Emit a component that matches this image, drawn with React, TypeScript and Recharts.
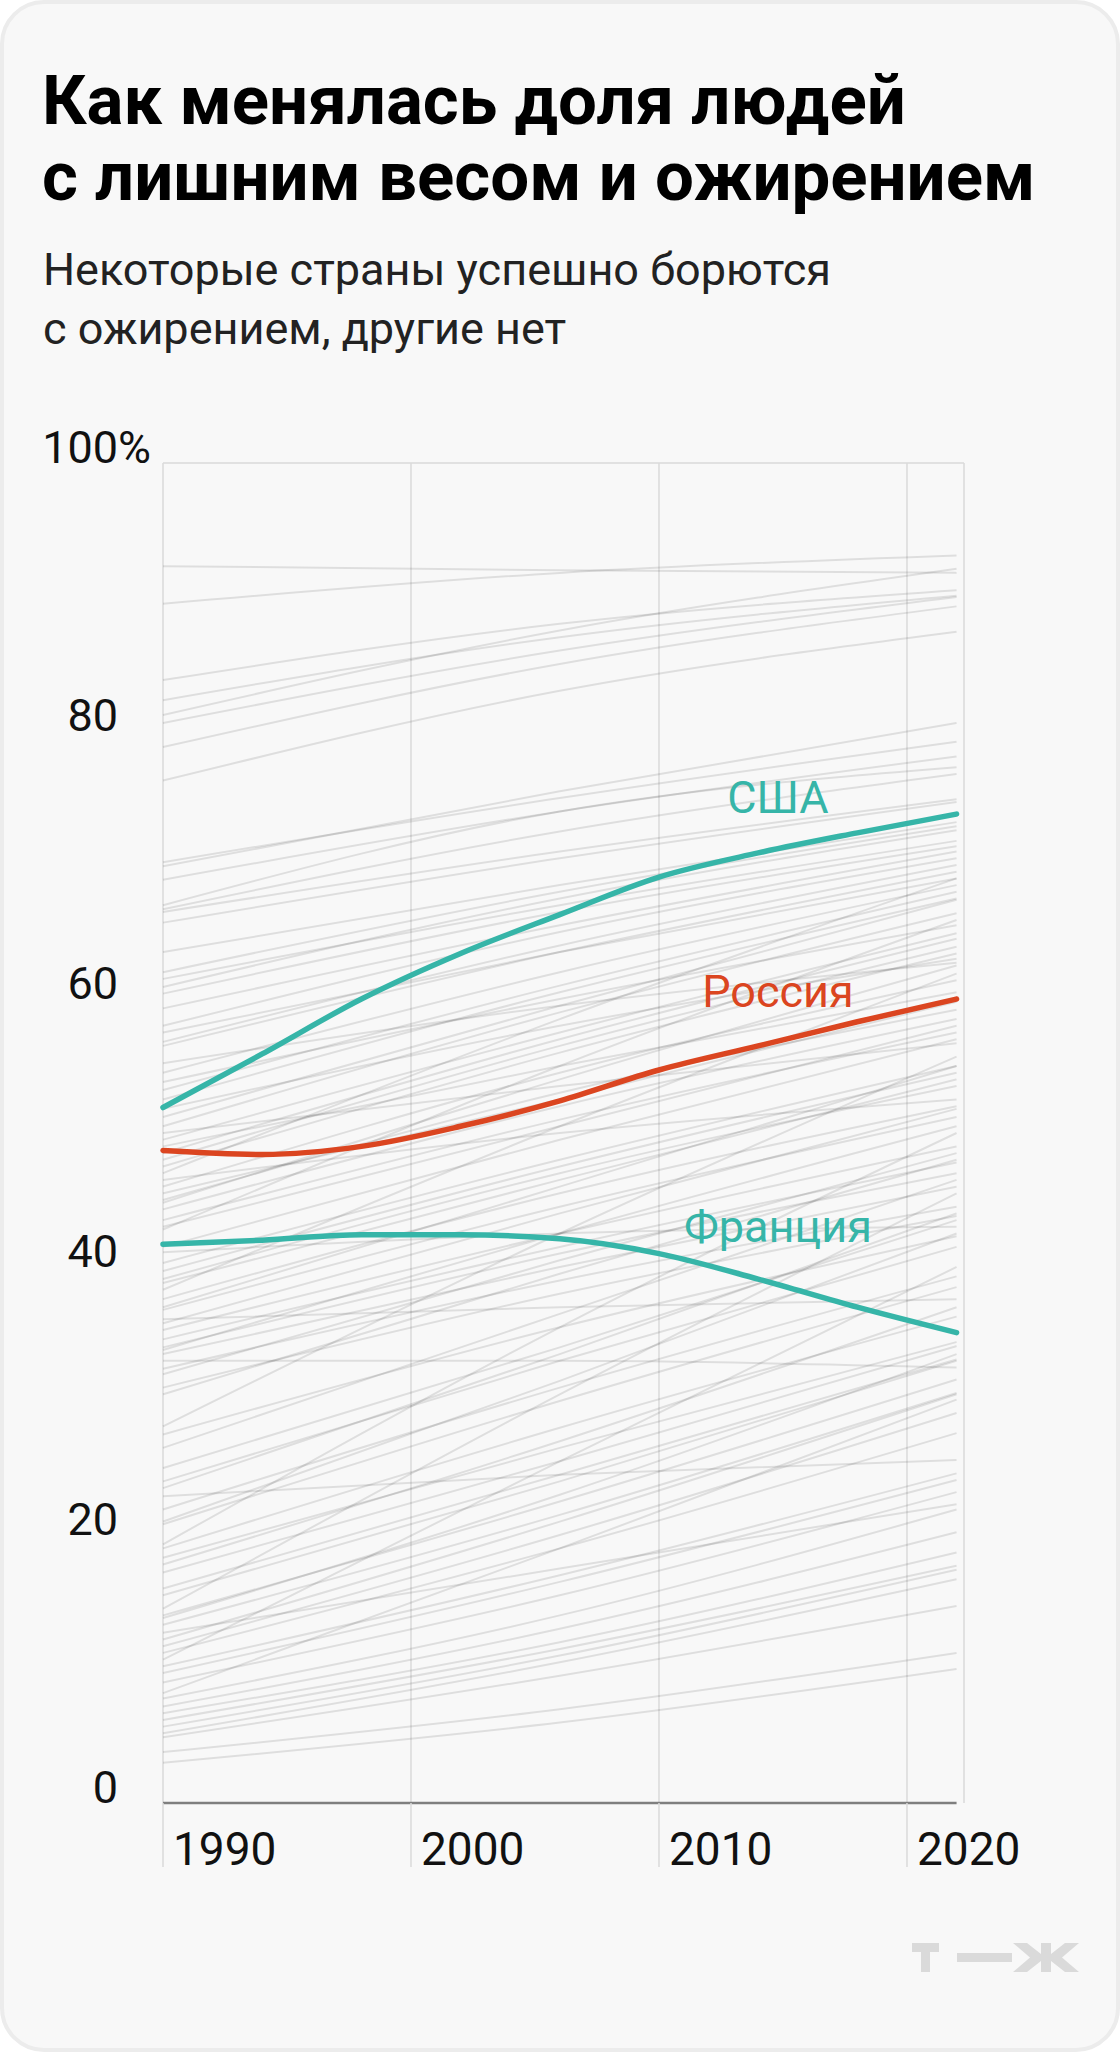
import React from 'react';
import {
  LineChart, Line, XAxis, YAxis, CartesianGrid,
  ReferenceLine, ReferenceDot,
} from 'recharts';

const TEAL = '#36b5a8';
const RED = '#db4520';
const FONT = 'Roboto, sans-serif';

// highlighted countries
const years = [1990, 1994, 1998, 2002, 2006, 2010, 2014, 2018, 2022];
const usa = [51.9, 55.9, 60.0, 63.4, 66.3, 69.1, 70.9, 72.4, 73.8];
const russia = [48.7, 48.4, 49.0, 50.5, 52.4, 54.7, 56.5, 58.3, 60.0];
const france = [41.7, 42.0, 42.4, 42.4, 42.1, 41.0, 39.1, 37.0, 35.1];

// all other countries: values in 1990, 2006, 2022
const bgYears = [1990, 2006, 2022];
const bgStart = [
  92.3, 89.5, 83.8, 82.3, 81.2, 80.6, 78.8, 76.3, 70.2, 69.9,
  68.9, 67.0, 66.7, 66.5, 65.7, 63.5, 62.0, 60.9, 60.4, 59.3,
  58.0, 56.8, 56.5, 55.2, 54.5, 53.2, 52.5, 51.2, 50.5, 50.0,
  49.5, 48.0, 47.5, 47.0, 46.5, 46.0, 45.0, 44.3, 43.5, 42.8,
  41.1, 40.3, 39.7, 39.1, 38.3, 37.6, 36.8, 36.1, 35.3, 34.6,
  34.0, 33.5, 33.0, 32.4, 31.0, 28.1, 27.5, 24.0, 22.9, 21.9,
  20.8, 19.3, 19.0, 18.3, 17.2, 16.0, 14.5, 14.0, 13.3, 12.7,
  11.7, 11.2, 10.7, 10.2, 9.7, 9.0, 8.2, 7.8, 7.2, 6.7,
  6.2, 5.7, 5.2, 4.9, 3.8, 3.0, 53.8, 51.8, 49.0, 45.5,
  43.0, 41.5, 38.8, 37.0, 35.8, 33.8, 32.0, 30.5, 26.5, 25.0,
  23.5, 21.0, 17.8, 15.5, 13.8, 12.2, 48.5, 44.8, 57.5, 61.5,
];
const bgMid = [
  92.0, 91.8, 88.0, 87.0, 87.5, 86.0, 85.0, 83.0, 75.0, 75.5,
  74.0, 74.0, 72.5, 71.0, 70.5, 68.5, 68.0, 67.5, 66.5, 65.5,
  65.0, 64.0, 63.5, 59.5, 62.0, 61.0, 60.5, 59.5, 59.0, 53.5,
  57.5, 56.5, 56.0, 58.5, 50.0, 54.5, 53.0, 52.0, 51.0, 55.0,
  42.5, 48.0, 47.5, 47.0, 50.5, 45.5, 44.5, 37.0, 42.5, 41.5,
  41.0, 40.0, 33.0, 39.0, 38.0, 42.5, 35.5, 33.0, 24.5, 31.0,
  30.0, 35.5, 28.0, 26.5, 25.5, 24.5, 30.5, 22.5, 21.5, 17.5,
  20.0, 19.0, 25.5, 17.0, 16.5, 15.5, 19.0, 14.0, 13.0, 12.0,
  11.5, 11.0, 10.5, 9.5, 7.0, 6.0, 60.0, 58.0, 55.0, 52.5,
  50.5, 49.5, 46.5, 46.0, 44.0, 42.5, 40.5, 39.5, 36.5, 34.0,
  33.5, 31.5, 27.0, 24.0, 23.0, 21.0, 57.0, 54.0, 63.5, 67.0,
];
const bgEnd = [
  91.8, 93.1, 90.5, 90.1, 92.1, 90.0, 89.3, 87.4, 79.2, 80.6,
  78.1, 77.3, 76.8, 74.9, 74.7, 73.2, 72.9, 72.6, 71.4, 71.0,
  70.5, 70.0, 69.5, 62.7, 68.5, 68.0, 67.5, 67.4, 66.4, 56.7,
  64.9, 63.9, 63.4, 69.0, 52.5, 61.4, 59.2, 58.5, 57.5, 65.9,
  43.0, 55.0, 54.5, 53.5, 61.9, 52.0, 51.2, 37.6, 49.0, 47.8,
  47.0, 46.0, 32.5, 44.5, 43.8, 55.7, 42.3, 41.5, 25.6, 39.3,
  38.5, 50.0, 36.3, 34.4, 34.1, 33.1, 45.5, 31.6, 30.6, 22.3,
  29.1, 27.6, 40.0, 24.6, 24.1, 23.2, 30.1, 21.9, 20.2, 18.7,
  17.7, 17.4, 16.7, 14.7, 11.2, 10.0, 65.5, 63.0, 60.5, 59.8,
  58.0, 57.0, 54.0, 55.0, 51.8, 50.5, 48.5, 48.0, 46.5, 43.5,
  44.0, 42.5, 37.0, 33.0, 33.5, 30.5, 64.5, 62.5, 69.0, 71.8,
];

const xTicks = [1990, 2000, 2010, 2020];
const yTicks = [0, 20, 40, 60, 80, 100];

const bgCols = [bgStart, bgMid, bgEnd];
const data = years.map((year, i) => {
  const row: any = { year, usa: usa[i], russia: russia[i], france: france[i] };
  const j = bgYears.indexOf(year);
  if (j >= 0) bgCols[j].forEach((v, k) => { row['c' + k] = v; });
  return row;
});

const YTick = ({ y, payload }: any) => (
  <g>
    <text x={118} y={y} textAnchor="end" fontSize={45} fill="#111" fontFamily={FONT}>{payload.value}</text>
    {payload.value === 100 && (
      <text x={118} y={y} fontSize={45} fill="#111" fontFamily={FONT}>%</text>
    )}
  </g>
);

const XTick = ({ x, y, payload }: any) => (
  <g>
    <line x1={x} x2={x} y1={y} y2={y + 64} stroke="#dadada" strokeWidth={1.5} />
    <text x={x + 10} y={y + 62} fontSize={46} fill="#111" fontFamily={FONT}>{payload.value}</text>
  </g>
);

const seriesLabel = (text: string, color: string) => (p: any) => (
  <text x={p.cx} y={p.cy} textAnchor="middle" fontSize={45} fill={color} fontFamily={FONT}>{text}</text>
);

export default function App() {
  return (
    <div style={{ position: 'absolute', left: 0, top: 0, width: 1120, height: 2052, background: '#fff' }}>
      <div style={{
        position: 'absolute', left: 0, top: 0, width: 1120, height: 2052,
        boxSizing: 'border-box', border: '4px solid #ececec', borderRadius: 44,
        background: '#f8f8f8',
      }} />
      <div style={{ position: 'absolute', left: 0, top: 0 }}>
        <LineChart width={1120} height={1893} data={data}
          margin={{ top: 463, right: 156, left: 0, bottom: 0 }}>
          <CartesianGrid horizontal={false} stroke="#dadada" strokeWidth={1.5} />
          <XAxis dataKey="year" type="number" domain={[1990, 2022.3]} ticks={xTicks}
            axisLine={false} tickLine={false} tickSize={0} tickMargin={0} height={90}
            tick={<XTick />} interval={0} />
          <YAxis type="number" domain={[0, 100]} ticks={yTicks} width={163}
            axisLine={false} tickLine={false} tick={<YTick />} interval={0} />
          <ReferenceLine y={100} stroke="#dadada" strokeWidth={1.5} />
          {bgStart.map((_, k) => (
            <Line key={k} dataKey={'c' + k} type="monotone" stroke="#000" strokeOpacity={0.1}
              strokeWidth={2} dot={false} connectNulls isAnimationActive={false} />
          ))}
          <ReferenceLine segment={[{ x: 1990, y: 0 }, { x: 2022, y: 0 }]} stroke="#7f7f7f" strokeWidth={2.5} />
          <Line dataKey="france" type="monotone" stroke={TEAL} strokeWidth={5.5} strokeLinecap="round"
            dot={false} isAnimationActive={false} />
          <Line dataKey="russia" type="monotone" stroke={RED} strokeWidth={5.5} strokeLinecap="round"
            dot={false} isAnimationActive={false} />
          <Line dataKey="usa" type="monotone" stroke={TEAL} strokeWidth={5.5} strokeLinecap="round"
            dot={false} isAnimationActive={false} />
          <ReferenceDot x={2014.8} y={73.9} r={0} shape={seriesLabel('США', TEAL)} />
          <ReferenceDot x={2014.8} y={59.4} r={0} shape={seriesLabel('Россия', RED)} />
          <ReferenceDot x={2014.8} y={41.9} r={0} shape={seriesLabel('Франция', TEAL)} />
        </LineChart>
      </div>
      <svg width={1120} height={2052} style={{ position: 'absolute', left: 0, top: 0, pointerEvents: 'none' }}>
        <g fontFamily={FONT} fill="#000">
          <text x={42} y={124} fontSize={69} fontWeight={700}>Как менялась доля людей</text>
          <text x={42} y={200} fontSize={69} fontWeight={700}>с лишним весом и ожирением</text>
          <text x={43} y={285} fontSize={45} fill="#222">Некоторые страны успешно борются</text>
          <text x={43} y={344} fontSize={45} fill="#222">с ожирением, другие нет</text>
        </g>
        <g fill="#dadada">
          <rect x={912} y={1943} width={27} height={9} />
          <rect x={921} y={1943} width={9} height={29} />
          <rect x={957} y={1953} width={55} height={9} />
          <rect x={1041} y={1943} width={10} height={29} />
          <polygon points="1013,1943 1027,1943 1041,1954 1041,1961 1027,1972 1013,1972 1030,1957.5" />
          <polygon points="1079,1943 1065,1943 1051,1954 1051,1961 1065,1972 1079,1972 1062,1957.5" />
        </g>
      </svg>
    </div>
  );
}
